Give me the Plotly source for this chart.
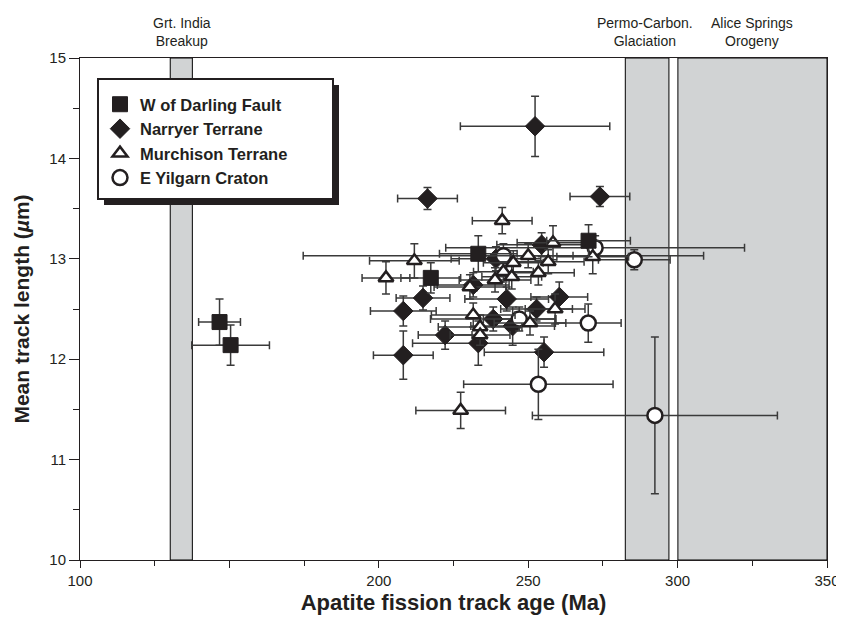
import plotly.graph_objects as go

# ---------------- data ----------------
sq_x = [146.7, 150.4, 217.4, 233.3, 270.2]
sq_y = [12.37, 12.14, 12.81, 13.05, 13.18]
sq_xe = [7, 13, 10, 13, 14]
sq_ye = [0.23, 0.20, 0.15, 0.18, 0.16]

di_x = [252.3, 216.3, 274.0, 214.8, 208.2, 208.2, 222.2, 233.3, 238.3, 242.8, 244.8, 252.8, 260.4, 255.3, 239.2, 254.5, 231.6]
di_y = [14.32, 13.60, 13.62, 12.61, 12.48, 12.04, 12.24, 12.16, 12.40, 12.60, 12.33, 12.50, 12.62, 12.07, 13.00, 13.14, 12.74]
di_xe = [25, 10, 10, 9, 11, 10, 9, 22, 21, 14, 14, 12, 9.5, 20, 15, 15, 12]
di_ye = [0.30, 0.11, 0.10, 0.12, 0.15, 0.24, 0.14, 0.22, 0.12, 0.12, 0.19, 0.12, 0.15, 0.15, 0.12, 0.12, 0.12]

tr_x = [241.3, 202.4, 211.9, 230.5, 231.6, 233.9, 233.9, 258.3, 250.0, 245.0, 256.7, 241.7, 238.9, 244.5, 253.4, 259.0, 250.6, 271.6, 227.4]
tr_y = [13.38, 12.81, 12.98, 12.72, 12.44, 12.32, 12.24, 13.16, 13.03, 12.96, 12.97, 12.87, 12.79, 12.82, 12.86, 12.50, 12.36, 13.02, 11.49]
tr_xe = [10, 8, 15, 12, 14, 14, 10, 12, 15, 10, 12, 10, 12, 10, 12, 10, 12, 12, 15]
tr_ye = [0.13, 0.16, 0.17, 0.12, 0.12, 0.12, 0.10, 0.17, 0.12, 0.12, 0.12, 0.10, 0.12, 0.12, 0.12, 0.15, 0.12, 0.17, 0.18]

ci_x = [241.7, 272.4, 285.5, 270.1, 253.4, 292.4, 247.0]
ci_y = [13.03, 13.11, 12.99, 12.36, 11.75, 11.44, 12.40]
ci_xe = [67, 50, 12, 11, 25, 41, 12]
ci_ye = [0.12, 0.12, 0.10, 0.19, 0.35, 0.78, 0.12]

bands = [(130.2, 137.6), (282.5, 297.1), (300.1, 350)]
band_labels = ["Grt. India<br>Breakup", "Permo-Carbon.<br>Glaciation", "Alice Springs<br>Orogeny"]
band_label_x = [134, 289, 325]

x_tickvals = [100, 150, 200, 250, 300, 350]
x_ticktext = ["100", "", "200", "250", "300", "350"]
y_tickvals = [10, 11, 12, 13, 14, 15]

INK = "#231f20"
ERR = "#3a3a3a"
BAND = "#d1d3d4"
FONT = "Liberation Sans, Arial, sans-serif"

# page geometry of the plotting area (page has an 8px body offset)
OFF = 8
FIG_W, FIG_H = 844 - OFF, 623 - OFF
PX0, PW, PY0, PH = 80, 747, 58, 502


def px2paper_x(px):
    return (px - PX0) / PW


def py2paper_y(py):
    return (PY0 + PH - py) / PH


def ebar(arr):
    return dict(type="data", array=arr, visible=True, color=ERR, thickness=1.5, width=4)


fig = go.Figure()

fig.add_trace(go.Scatter(x=di_x, y=di_y, mode="markers", name="Narryer Terrane",
                         error_x=ebar(di_xe), error_y=ebar(di_ye), legendrank=2,
                         marker=dict(symbol="diamond", size=15, color=INK, line=dict(color=INK, width=1))))
fig.add_trace(go.Scatter(x=ci_x, y=ci_y, mode="markers", name="E Yilgarn Craton",
                         error_x=ebar(ci_xe), error_y=ebar(ci_ye), legendrank=4,
                         marker=dict(symbol="circle", size=15, color="white", line=dict(color=INK, width=2.5))))
fig.add_trace(go.Scatter(x=tr_x, y=tr_y, mode="markers", name="Murchison Terrane",
                         error_x=ebar(tr_xe), error_y=ebar(tr_ye), legendrank=3,
                         marker=dict(symbol="triangle-up", size=13, color="white", line=dict(color=INK, width=2.5))))
fig.add_trace(go.Scatter(x=sq_x, y=sq_y, mode="markers", name="W of Darling Fault",
                         error_x=ebar(sq_xe), error_y=ebar(sq_ye), legendrank=1,
                         marker=dict(symbol="square", size=15, color=INK, line=dict(color=INK, width=1))))

for (x0, x1) in bands:
    fig.add_shape(type="rect", xref="x", yref="y", x0=x0, x1=x1, y0=10, y1=15,
                  fillcolor=BAND, line=dict(color="black", width=1), layer="below")

for lab, lx in zip(band_labels, band_label_x):
    fig.add_annotation(x=lx, y=1.0, xref="x", yref="paper", yanchor="bottom", yshift=7,
                       text=lab, showarrow=False,
                       font=dict(family=FONT, size=14, color=INK))

# legend box: shadow + white frame (legend itself is transparent)
fig.add_shape(type="rect", xref="paper", yref="paper",
              x0=px2paper_x(104), x1=px2paper_x(339),
              y0=py2paper_y(205), y1=py2paper_y(85),
              fillcolor=INK, line=dict(width=0), layer="above")
fig.add_shape(type="rect", xref="paper", yref="paper",
              x0=px2paper_x(98), x1=px2paper_x(333),
              y0=py2paper_y(199), y1=py2paper_y(79),
              fillcolor="white", line=dict(color=INK, width=2), layer="above")

fig.update_layout(
    width=FIG_W, height=FIG_H,
    margin=dict(l=PX0 - OFF, r=FIG_W - (PX0 - OFF) - PW, t=PY0 - OFF, b=FIG_H - (PY0 - OFF) - PH),
    paper_bgcolor="white", plot_bgcolor="white",
    font=dict(family=FONT, color=INK),
    showlegend=True,
    legend=dict(x=px2paper_x(100), y=py2paper_y(87), xanchor="left", yanchor="top",
                bgcolor="rgba(0,0,0,0)", borderwidth=0,
                font=dict(family=FONT, size=16.5, color=INK, weight="bold"),
                itemwidth=30),
    xaxis=dict(range=[100, 350], showgrid=False, zeroline=False, automargin=False,
               showline=True, linecolor=INK, linewidth=1, mirror=True,
               ticks="outside", tickvals=x_tickvals, ticktext=x_ticktext, ticklen=7, tickcolor=INK,
               minor=dict(dtick=25, tick0=0, ticks="outside", ticklen=5, tickcolor=INK),
               tickfont=dict(family=FONT, size=15, color=INK),
               title=dict(text="<b>Apatite fission track age (Ma)</b>", standoff=6,
                          font=dict(family=FONT, size=22, color=INK))),
    yaxis=dict(range=[10, 15], showgrid=False, zeroline=False, automargin=False,
               showline=True, linecolor=INK, linewidth=1, mirror=True,
               ticks="outside", tickvals=y_tickvals, ticklen=10, tickcolor=INK,
               minor=dict(dtick=0.5, tick0=0, ticks="outside", ticklen=6, tickcolor=INK),
               tickfont=dict(family=FONT, size=15, color=INK),
               title=dict(text="<b>Mean track length (<i>µ</i>m)</b>", standoff=13,
                          font=dict(family=FONT, size=21, color=INK))),
)

fig.write_html("out.html")
